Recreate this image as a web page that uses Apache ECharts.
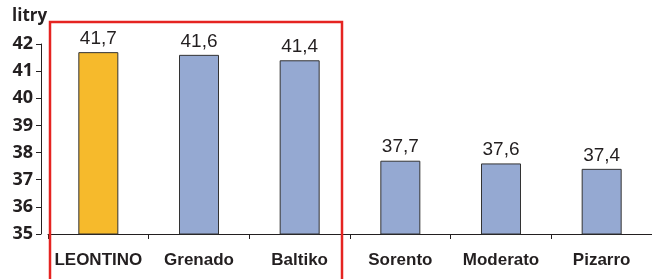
<!DOCTYPE html>
<html>
<head>
<meta charset="utf-8">
<script src="https://cdn.jsdelivr.net/npm/echarts@6/dist/echarts.min.js"></script>
<style>
  html, body { margin: 0; padding: 0; background: #fff; }
  #chart { width: 652px; height: 279px; }
</style>
</head>
<body>
<div id="chart"></div>
<script>
  // dane z wykresu
  var categories = ['LEONTINO', 'Grenado', 'Baltiko', 'Sorento', 'Moderato', 'Pizarro'];
  var values = [41.7, 41.6, 41.4, 37.7, 37.6, 37.4];
  var highlightIndex = 0;
  var unitLabel = 'litry';

  var orange = '#F6BA2C';
  var blue = '#95A9D2';
  var ink = '#231F20';

  var chart = echarts.init(document.getElementById('chart'));

  var barData = values.map(function (v, i) {
    return {
      value: v,
      itemStyle: { color: i === highlightIndex ? orange : blue }
    };
  });

  chart.setOption({
    animation: false,
    grid: { left: 48, right: -1, top: 44, bottom: 45 },
    xAxis: {
      type: 'category',
      data: categories,
      axisLine: { lineStyle: { color: ink, width: 1 } },
      axisTick: { show: true, length: 5, lineStyle: { color: ink } },
      axisLabel: {
        interval: 0,
        color: ink,
        fontFamily: 'Liberation Sans',
        fontWeight: 'bold',
        fontSize: 17,
        margin: 18
      }
    },
    yAxis: {
      type: 'value',
      min: 35,
      max: 42,
      interval: 1,
      offset: 7,
      splitLine: { show: false },
      axisLine: { show: true, lineStyle: { color: ink, width: 1 } },
      axisTick: { show: true, length: 5, lineStyle: { color: ink } },
      axisLabel: {
        color: ink,
        fontFamily: 'Open Sans',
        fontWeight: 'bold',
        fontSize: 18,
        margin: 8
      }
    },
    series: [{
      type: 'bar',
      data: barData,
      barWidth: 40,
      itemStyle: { borderColor: '#333333', borderWidth: 1 },
      label: {
        show: true,
        position: 'top',
        distance: 4,
        color: ink,
        fontFamily: 'Liberation Sans',
        fontSize: 19,
        formatter: function (p) { return p.value.toFixed(1).replace('.', ','); }
      }
    }],
    graphic: [
      {
        type: 'text',
        left: 12,
        top: 8,
        style: {
          text: unitLabel,
          fill: ink,
          font: 'bold 17px "Open Sans"'
        }
      },
      {
        type: 'rect',
        shape: { x: 50, y: 22, width: 292, height: 270 },
        style: { fill: 'none', stroke: '#E52421', lineWidth: 2.5 },
        z: 100
      }
    ]
  });
</script>
</body>
</html>
